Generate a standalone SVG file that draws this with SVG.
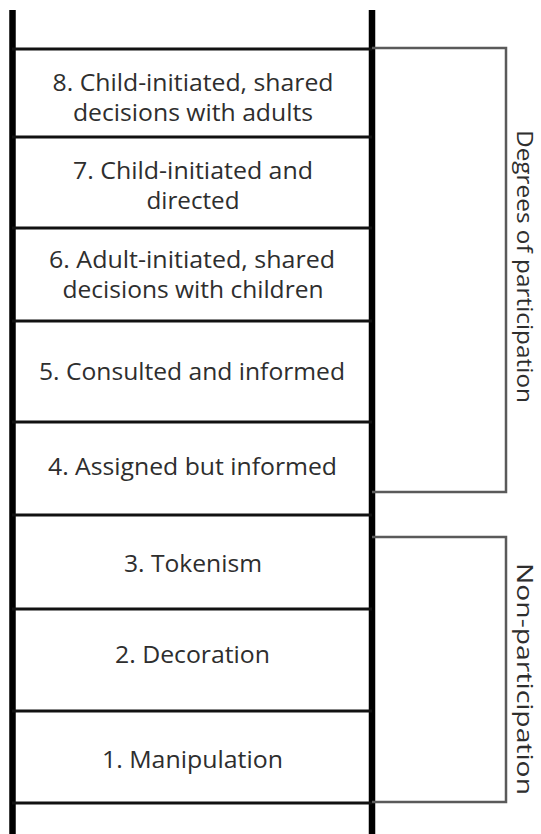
<svg xmlns="http://www.w3.org/2000/svg" width="541" height="834" viewBox="0 0 541 834">
  <style>
    .rail { stroke: #000; stroke-width: 6.5; fill: none; }
    .rung { stroke: #111; stroke-width: 3; fill: none; }
    .bracket { stroke: #5a5a5a; stroke-width: 2.5; fill: none; }
    .lbl { font-family: "Open Sans", "Noto Sans", sans-serif; font-size: 24.5px; fill: #2e2e2e; text-anchor: middle; }
    .side { font-family: "Open Sans", "Noto Sans", sans-serif; font-size: 22.5px; fill: #2e2e2e; text-anchor: start; }
  </style>
  <rect width="541" height="834" fill="#fff"/>
  <g id="ladder">
    <line class="rail" x1="12.5" y1="10" x2="12.5" y2="834"/>
    <line class="rail" x1="372" y1="10" x2="372" y2="834"/>
    <line class="rung" x1="12" y1="49" x2="372" y2="49"/>
    <line class="rung" x1="12" y1="137" x2="372" y2="137"/>
    <line class="rung" x1="12" y1="228" x2="372" y2="228"/>
    <line class="rung" x1="12" y1="321" x2="372" y2="321"/>
    <line class="rung" x1="12" y1="422" x2="372" y2="422"/>
    <line class="rung" x1="12" y1="515" x2="372" y2="515"/>
    <line class="rung" x1="12" y1="609" x2="372" y2="609"/>
    <line class="rung" x1="12" y1="711" x2="372" y2="711"/>
    <line class="rung" x1="12" y1="803" x2="372" y2="803"/>
  </g>
  <g id="rung8">
    <text class="lbl" x="193" y="91" textLength="281" lengthAdjust="spacingAndGlyphs">8. Child-initiated, shared</text>
    <text class="lbl" x="193" y="121" textLength="240" lengthAdjust="spacingAndGlyphs">decisions with adults</text>
  </g>
  <g id="rung7">
    <text class="lbl" x="193" y="179" textLength="240" lengthAdjust="spacingAndGlyphs">7. Child-initiated and</text>
    <text class="lbl" x="193" y="209" textLength="93" lengthAdjust="spacingAndGlyphs">directed</text>
  </g>
  <g id="rung6">
    <text class="lbl" x="192" y="268" textLength="286" lengthAdjust="spacingAndGlyphs">6. Adult-initiated, shared</text>
    <text class="lbl" x="193" y="298" textLength="261" lengthAdjust="spacingAndGlyphs">decisions with children</text>
  </g>
  <g id="rung5">
    <text class="lbl" x="192" y="380" textLength="306" lengthAdjust="spacingAndGlyphs">5. Consulted and informed</text>
  </g>
  <g id="rung4">
    <text class="lbl" x="192.5" y="475" textLength="289" lengthAdjust="spacingAndGlyphs">4. Assigned but informed</text>
  </g>
  <g id="rung3">
    <text class="lbl" x="193" y="572" textLength="138" lengthAdjust="spacingAndGlyphs">3. Tokenism</text>
  </g>
  <g id="rung2">
    <text class="lbl" x="192.5" y="663" textLength="155" lengthAdjust="spacingAndGlyphs">2. Decoration</text>
  </g>
  <g id="rung1">
    <text class="lbl" x="192.5" y="768" textLength="181" lengthAdjust="spacingAndGlyphs">1. Manipulation</text>
  </g>
  <g id="connectors">
    <path class="bracket" d="M372 48 H506 V492 H372"/>
    <path class="bracket" d="M372 537 H506 V802 H372"/>
  </g>
  <g id="degrees-of-participation">
    <text class="side" transform="translate(516.5,130) rotate(90)" textLength="273" lengthAdjust="spacingAndGlyphs">Degrees of participation</text>
  </g>
  <g id="non-participation">
    <text class="side" transform="translate(516.5,563) rotate(90)" textLength="232" lengthAdjust="spacingAndGlyphs">Non-participation</text>
  </g>
</svg>
